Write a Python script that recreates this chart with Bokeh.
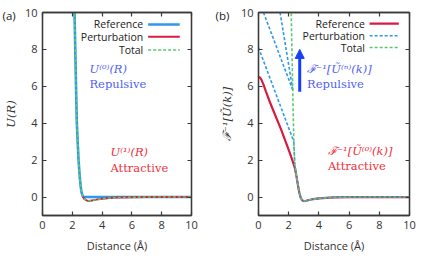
from bokeh.plotting import figure
from bokeh.models import Range1d, LinearAxis, Label, Arrow, NormalHead, FixedTicker
from bokeh.layouts import row
from bokeh.embed import file_html
from bokeh.resources import INLINE

# ---------------- data ----------------
# Panel (a): real-space potentials
a_ref_x = [2.12, 2.15, 2.2, 2.25, 2.3, 2.36, 2.42, 2.5, 2.56, 2.62, 2.7, 2.8, 10.0]
a_ref_y = [11.0, 10.0, 8.0, 6.0, 4.1, 3.0, 2.0, 1.1, 0.6, 0.25, 0.05, 0.0, 0.0]
a_pert_x = [2.7, 2.8, 2.95, 3.1, 3.3, 3.6, 4.0, 4.5, 5.0, 6.0, 7.0, 10.0]
a_pert_y = [0.02, -0.1, -0.18, -0.21, -0.19, -0.14, -0.09, -0.05, -0.03, -0.01, 0.0, 0.0]
a_tot_x = [2.12, 2.15, 2.2, 2.25, 2.3, 2.36, 2.42, 2.5, 2.56, 2.62, 2.7, 2.8, 2.95, 3.1, 3.3, 3.6, 4.0, 4.5, 5.0, 6.0, 7.0, 10.0]
a_tot_y = [11.0, 10.0, 8.0, 6.0, 4.1, 3.0, 2.0, 1.1, 0.6, 0.25, 0.02, -0.1, -0.18, -0.21, -0.19, -0.14, -0.09, -0.05, -0.03, -0.01, 0.0, 0.0]

# Panel (b): inverse Fourier transforms
b_ref_x = [0.0, 0.1, 0.2, 0.35, 0.5, 0.75, 1.0, 1.5, 2.0, 2.2, 2.4, 2.5, 2.6, 2.7, 2.8, 2.9, 3.0, 3.15, 3.5, 4.0, 5.0, 6.0, 10.0]
b_ref_y = [6.5, 6.47, 6.35, 6.05, 5.7, 5.15, 4.65, 3.65, 2.55, 2.1, 1.6, 1.2, 0.7, 0.25, -0.05, -0.18, -0.22, -0.2, -0.13, -0.07, -0.02, 0.0, 0.0]
b_tail_x = [2.34, 2.4, 2.5, 2.6, 2.7, 2.8, 2.9, 3.0, 3.15, 3.5, 4.0, 5.0, 6.0, 10.0]
b_tail_y = [3.0, 1.8, 1.2, 0.7, 0.25, -0.05, -0.18, -0.22, -0.2, -0.13, -0.07, -0.02, 0.0, 0.0]
b_pert1_x = [0.0, 2.34]
b_pert1_y = [8.1, 3.0]
b_pert2_x = [0.33, 2.27]
b_pert2_y = [10.0, 5.8]
b_pert3_x = [1.43, 2.27]
b_pert3_y = [10.0, 5.8]
b_tot_x = [2.16, 2.2, 2.25, 2.3]
b_tot_y = [10.5, 8.5, 6.5, 4.5]

x_ticks = [0, 2, 4, 6, 8, 10]
y_ticks = [0, 2, 4, 6, 8, 10]

BLUE = "#2f97ec"
RED = "#d81b3f"
GREEN = "#5cc86c"
AX = "#3a3a3a"
SANS = "Open Sans"
SERIF = "DejaVu Serif"
TXT_BLUE = "#4f5ff5"
TXT_RED = "#f0303c"


def make_fig(frame_w, bl, br, ylabel):
    p = figure(frame_width=frame_w, frame_height=203,
               x_range=Range1d(0, 10), y_range=Range1d(-1, 10),
               output_backend="svg", toolbar_location=None,
               min_border_left=bl, min_border_right=br,
               min_border_top=12, min_border_bottom=40)
    p.grid.visible = False
    p.outline_line_color = AX
    p.outline_line_width = 1.3
    p.background_fill_color = "white"
    p.border_fill_color = "white"
    for ax in (p.xaxis[0], p.yaxis[0]):
        ax.major_tick_in = 4
        ax.major_tick_out = 0
        ax.minor_tick_line_color = None
        ax.axis_line_color = AX
        ax.axis_line_width = 1.3
        ax.major_tick_line_color = AX
        ax.major_tick_line_width = 1.2
        ax.major_label_text_font = SANS
        ax.major_label_text_font_size = "11px"
        ax.major_label_text_color = "#333333"
        ax.major_label_standoff = 5
    p.xaxis.ticker = FixedTicker(ticks=x_ticks)
    p.yaxis.ticker = FixedTicker(ticks=y_ticks)
    p.xaxis.axis_label = "Distance (Å)"
    p.xaxis.axis_label_text_font = SANS
    p.xaxis.axis_label_text_font_size = "11px"
    p.xaxis.axis_label_text_font_style = "normal"
    p.xaxis.axis_label_text_color = "#333333"
    p.xaxis.axis_label_standoff = 6
    p.yaxis.axis_label = ylabel
    p.yaxis.axis_label_text_font = SERIF
    p.yaxis.axis_label_text_font_style = "italic"
    p.yaxis.axis_label_text_font_size = "11.5px"
    p.yaxis.axis_label_text_color = "#333333"
    p.yaxis.axis_label_standoff = 4
    top = LinearAxis(ticker=FixedTicker(ticks=x_ticks))
    right = LinearAxis(ticker=FixedTicker(ticks=y_ticks))
    for ax in (top, right):
        ax.major_tick_in = 4
        ax.major_tick_out = 0
        ax.minor_tick_line_color = None
        ax.axis_line_color = AX
        ax.axis_line_width = 1.3
        ax.major_tick_line_color = AX
        ax.major_tick_line_width = 1.2
        ax.major_label_text_color = None
        ax.major_label_text_font_size = "1px"
        ax.major_label_standoff = 0
    p.add_layout(top, "above")
    p.add_layout(right, "right")
    return p


def legend(p, xt, x0, x1, entries):
    for (txt, yy, color, dash, w) in entries:
        p.add_layout(Label(x=xt, y=yy, text=txt, text_align="right", text_baseline="middle",
                           text_font=SANS, text_font_size="10.5px", text_color="#222222"))
        p.line([x0, x1], [yy, yy], line_color=color, line_width=w, line_dash=dash)


def mlabel(p, x, y, txt, color, italic=True, size="11.5px"):
    p.add_layout(Label(x=x, y=y, text=txt, text_font=SERIF,
                       text_font_style="italic" if italic else "normal",
                       text_font_size=size, text_color=color, text_baseline="middle"))


def panel_tag(p, txt, dx):
    # placed in the right side panel (not clipped); dx shifts it back to the page's left of the panel
    p.add_layout(Label(x=dx, y=200, x_units="screen", y_units="screen", text=txt,
                       text_font=SANS, text_font_size="11.5px", text_color="#222222",
                       text_baseline="middle"), "right")


# ---------------- panel (a) ----------------
pa = make_fig(149, 41, 24, "U(R)")
pa.line(a_ref_x, a_ref_y, line_color=BLUE, line_width=2.6)
pa.line(a_pert_x, a_pert_y, line_color=RED, line_width=2.0)
pa.line(a_tot_x, a_tot_y, line_color=GREEN, line_width=1.6, line_dash="3 2")
legend(pa, 6.76, 7.09, 9.21, [("Reference", 9.35, BLUE, "solid", 2.4),
                               ("Perturbation", 8.68, RED, "solid", 2.0),
                               ("Total", 7.97, GREEN, "3 2", 1.6)])
mlabel(pa, 3.15, 6.96, "U⁽⁰⁾(R)", TXT_BLUE)
mlabel(pa, 3.15, 6.1, "Repulsive", TXT_BLUE, italic=False)
mlabel(pa, 4.56, 2.46, "U⁽¹⁾(R)", TXT_RED)
mlabel(pa, 4.56, 1.6, "Attractive", TXT_RED, italic=False)
panel_tag(pa, "(a)", -189)

# ---------------- panel (b) ----------------
pb = make_fig(151, 43, 5, "ℱ⁻¹[Ũ(k)]")
pb.line(b_ref_x, b_ref_y, line_color=RED, line_width=2.2)
for xs, ys in ((b_pert1_x, b_pert1_y), (b_pert2_x, b_pert2_y), (b_pert3_x, b_pert3_y), (b_tail_x, b_tail_y)):
    pb.line(xs, ys, line_color=BLUE, line_width=1.6, line_dash="3 2")
pb.line(b_tot_x + b_tail_x, b_tot_y + b_tail_y, line_color=GREEN, line_width=1.6, line_dash="3 2")
legend(pb, 7.05, 7.36, 9.29, [("Reference", 9.4, RED, "solid", 2.2),
                               ("Perturbation", 8.74, BLUE, "3 2", 1.6),
                               ("Total", 8.1, GREEN, "3 2", 1.6)])
pb.add_layout(Arrow(end=NormalHead(size=9, fill_color="#1540f5", line_color="#1540f5"),
                    x_start=2.73, y_start=5.7, x_end=2.73, y_end=8.0,
                    line_color="#1540f5", line_width=3))
mlabel(pb, 3.22, 6.96, "ℱ⁻¹[Ũ⁽ⁿ⁾(k)]", TXT_BLUE)
mlabel(pb, 3.22, 6.14, "Repulsive", TXT_BLUE, italic=False)
mlabel(pb, 4.6, 2.5, "ℱ⁻¹[Ũ⁽⁰⁾(k)]", TXT_RED)
mlabel(pb, 4.6, 1.66, "Attractive", TXT_RED, italic=False)
panel_tag(pb, "(b)", -194)

layout = row(pa, pb, spacing=0)
open("out.html", "w").write(file_html(layout, INLINE))
